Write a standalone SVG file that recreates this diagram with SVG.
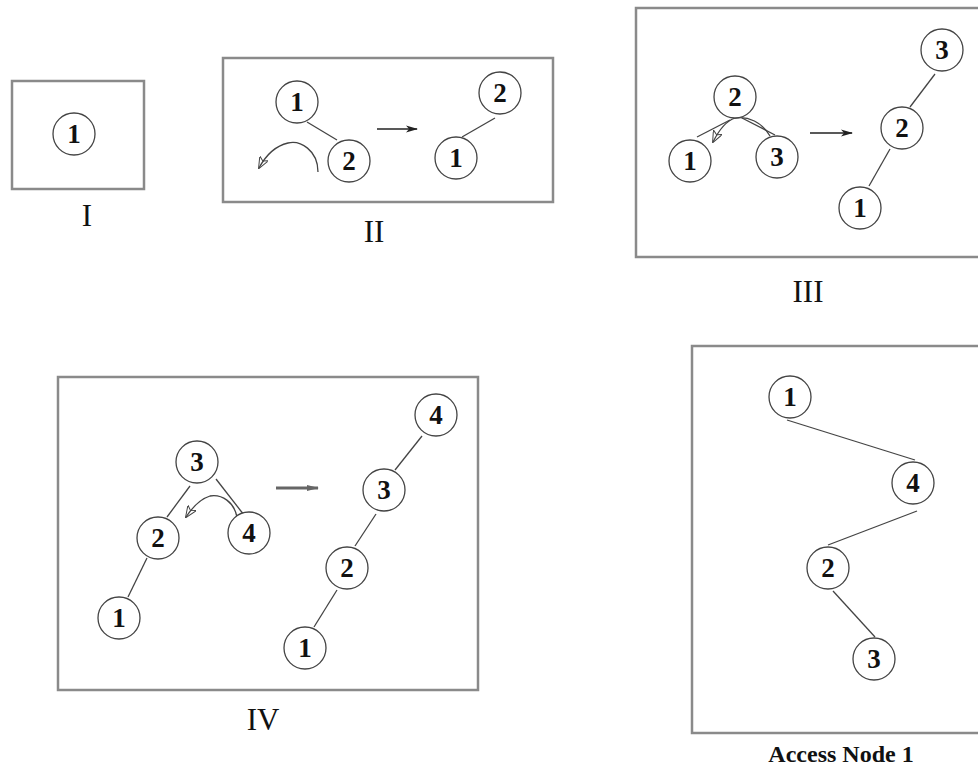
<svg xmlns="http://www.w3.org/2000/svg" width="978" height="768" viewBox="0 0 978 768">
<defs>
<marker id="ah" viewBox="0 0 12 8" refX="11" refY="4" markerWidth="12" markerHeight="8" markerUnits="userSpaceOnUse" orient="auto">
<path d="M0,0.5 L12,4 L0,7.5 L3,4 Z" fill="#222"/>
</marker>
<marker id="ch" viewBox="0 0 12 10" refX="11" refY="5" markerWidth="12" markerHeight="10" markerUnits="userSpaceOnUse" orient="auto">
<path d="M0,0 L12,5 L0,10 L3,5 Z" fill="none" stroke="#444" stroke-width="1"/>
</marker>
<marker id="ahg" viewBox="0 0 12 8" refX="11" refY="4" markerWidth="12" markerHeight="8" markerUnits="userSpaceOnUse" orient="auto">
<path d="M0,1 L12,4 L0,7 Z" fill="#666"/>
</marker>
</defs>
<style>
.box{fill:none;stroke:#8a8a8a;stroke-width:2.5}
.nd circle{fill:#fff;stroke:#444;stroke-width:1.3}
.nd text{font-family:"Liberation Serif",serif;font-weight:bold;font-size:27px;text-anchor:middle;fill:#111}
.e{stroke:#444;stroke-width:1.3;fill:none}
.cv{stroke:#444;stroke-width:1.3;fill:none}
.lbl{font-family:"Liberation Serif",serif;font-size:31px;text-anchor:middle;fill:#111}
.lblb{font-family:"Liberation Serif",serif;font-size:24px;font-weight:bold;text-anchor:middle;fill:#111}
</style>
<rect fill="#fff" width="978" height="768"/>
<g id="frames">
<rect class="box" x="12" y="81" width="132" height="108"/>
<rect class="box" x="223" y="58" width="330" height="144"/>
<rect class="box" x="636" y="8" width="350" height="249"/>
<rect class="box" x="58" y="377" width="420" height="313"/>
<rect class="box" x="692" y="346" width="300" height="387"/>
</g>
<g id="connectors">
<line class="e" x1="307" y1="122" x2="337" y2="140"/>
<line class="e" x1="495" y1="118" x2="462" y2="137"/>
<line x1="377" y1="129" x2="417" y2="129" stroke="#222" stroke-width="1.6" marker-end="url(#ah)"/>
<path class="cv" d="M318,172 C318,150 300,140 288,143 C275,146 266,155 259,168" marker-end="url(#ch)"/>
<line class="e" x1="730" y1="120" x2="697" y2="137"/>
<line class="e" x1="742" y1="118" x2="775" y2="135"/>
<path class="cv" d="M770,136 C762,122 748,116 735,118 C726,121 718,132 713,142" marker-end="url(#ch)"/>
<line class="e" x1="935" y1="74" x2="910" y2="107"/>
<line class="e" x1="890" y1="149" x2="869" y2="186"/>
<line x1="810" y1="133" x2="852" y2="133" stroke="#222" stroke-width="1.6" marker-end="url(#ah)"/>
<line class="e" x1="190" y1="486" x2="167" y2="517"/>
<line class="e" x1="216" y1="479" x2="244" y2="515"/>
<line class="e" x1="147" y1="558" x2="128" y2="597"/>
<path class="cv" d="M237,517 C234,502 222,494 210,496 C200,499 192,508 186,517" marker-end="url(#ch)"/>
<line x1="276" y1="488" x2="318" y2="488" stroke="#666" stroke-width="3" marker-end="url(#ahg)"/>
<line class="e" x1="422" y1="436" x2="395" y2="470"/>
<line class="e" x1="376" y1="514" x2="355" y2="546"/>
<line class="e" x1="337" y1="590" x2="314" y2="627"/>
<line class="e" x1="787" y1="420" x2="915" y2="460"/>
<line class="e" x1="917" y1="511" x2="828" y2="545"/>
<line class="e" x1="833" y1="591" x2="875" y2="637"/>
</g>
<g id="n-I-1" class="nd"><circle cx="74" cy="134" r="21"/><text x="74" y="143">1</text></g>
<g id="n-II-a1" class="nd"><circle cx="297" cy="102" r="21"/><text x="297" y="111">1</text></g>
<g id="n-II-a2" class="nd"><circle cx="349" cy="161" r="21"/><text x="349" y="170">2</text></g>
<g id="n-II-b2" class="nd"><circle cx="500" cy="93" r="21"/><text x="500" y="102">2</text></g>
<g id="n-II-b1" class="nd"><circle cx="456" cy="158" r="21"/><text x="456" y="167">1</text></g>
<g id="n-III-a2" class="nd"><circle cx="735" cy="97" r="21"/><text x="735" y="106">2</text></g>
<g id="n-III-a1" class="nd"><circle cx="690" cy="161" r="21"/><text x="690" y="170">1</text></g>
<g id="n-III-a3" class="nd"><circle cx="777" cy="157" r="21"/><text x="777" y="166">3</text></g>
<g id="n-III-b3" class="nd"><circle cx="942" cy="50" r="21"/><text x="942" y="59">3</text></g>
<g id="n-III-b2" class="nd"><circle cx="902" cy="128" r="21"/><text x="902" y="137">2</text></g>
<g id="n-III-b1" class="nd"><circle cx="860" cy="208" r="21"/><text x="860" y="217">1</text></g>
<g id="n-IV-a3" class="nd"><circle cx="197" cy="462" r="21"/><text x="197" y="471">3</text></g>
<g id="n-IV-a2" class="nd"><circle cx="158" cy="538" r="21"/><text x="158" y="547">2</text></g>
<g id="n-IV-a1" class="nd"><circle cx="119" cy="618" r="21"/><text x="119" y="627">1</text></g>
<g id="n-IV-a4" class="nd"><circle cx="249" cy="533" r="21"/><text x="249" y="542">4</text></g>
<g id="n-IV-b4" class="nd"><circle cx="436" cy="415" r="21"/><text x="436" y="424">4</text></g>
<g id="n-IV-b3" class="nd"><circle cx="384" cy="490" r="21"/><text x="384" y="499">3</text></g>
<g id="n-IV-b2" class="nd"><circle cx="347" cy="568" r="21"/><text x="347" y="577">2</text></g>
<g id="n-IV-b1" class="nd"><circle cx="305" cy="648" r="21"/><text x="305" y="657">1</text></g>
<g id="n-V-1" class="nd"><circle cx="790" cy="397" r="21"/><text x="790" y="406">1</text></g>
<g id="n-V-4" class="nd"><circle cx="913" cy="483" r="21"/><text x="913" y="492">4</text></g>
<g id="n-V-2" class="nd"><circle cx="828" cy="568" r="21"/><text x="828" y="577">2</text></g>
<g id="n-V-3" class="nd"><circle cx="874" cy="659" r="21"/><text x="874" y="668">3</text></g>
<g id="labels">
<text class="lbl" x="87" y="226">I</text>
<text class="lbl" x="374" y="242">II</text>
<text class="lbl" x="808" y="302">III</text>
<text class="lbl" x="263" y="730">IV</text>
<text class="lblb" x="841" y="762">Access Node 1</text>
</g>
</svg>
